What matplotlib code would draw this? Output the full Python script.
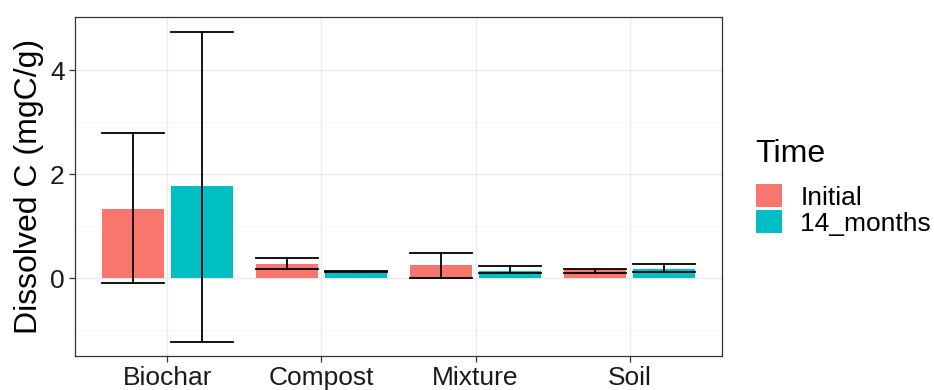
import matplotlib
matplotlib.use("Agg")
import matplotlib.pyplot as plt
import numpy as np
from matplotlib.patches import Patch

plt.rcParams["font.family"] = ["Liberation Sans", "DejaVu Sans"]

# ── data ─────────────────────────────────────────────────────────────
categories = ["Biochar", "Compost", "Mixture", "Soil"]
groups = ["Initial", "14_months"]
colors = ["#F8766D", "#00BFC4"]

initial_mean = [1.33, 0.27, 0.25, 0.15]
initial_lo = [-0.10, 0.17, 0.00, 0.10]
initial_hi = [2.78, 0.38, 0.49, 0.17]

months14_mean = [1.77, 0.13, 0.13, 0.17]
months14_lo = [-1.23, 0.12, 0.10, 0.12]
months14_hi = [4.73, 0.14, 0.23, 0.26]

means = [initial_mean, months14_mean]
lows = [initial_lo, months14_lo]
highs = [initial_hi, months14_hi]

# ── figure ───────────────────────────────────────────────────────────
W, H = 934, 390
fig = plt.figure(figsize=(W / 100, H / 100), dpi=100)
ax = fig.add_axes([75 / W, (H - 356) / H, 647 / W, 339 / H])

x = np.arange(1, len(categories) + 1)
dodge = 0.225
bw = 0.40
for i, g in enumerate(groups):
    xs = x + (i * 2 - 1) * dodge
    ax.bar(xs, means[i], width=bw, color=colors[i], zorder=2)
    for xx, lo, hi in zip(xs, lows[i], highs[i]):
        ax.plot([xx, xx], [lo, hi], color="black", lw=1.3, zorder=3)
        ax.plot([xx - bw / 2, xx + bw / 2], [lo, lo], color="black", lw=1.3, zorder=3)
        ax.plot([xx - bw / 2, xx + bw / 2], [hi, hi], color="black", lw=1.3, zorder=3)

ax.set_xlim(0.4, 4.6)
ax.set_ylim(-1.5, 5.02)
ax.set_xticks(x)
ax.set_xticklabels(categories)
ax.set_yticks([0, 2, 4])
ax.set_yticks([-1, 1, 3], minor=True)
ax.grid(which="major", color="#EBEBEB", lw=1.0, zorder=0)
ax.grid(which="minor", axis="y", color="#F2F2F2", lw=0.6, zorder=0)
ax.set_axisbelow(True)
for s in ax.spines.values():
    s.set_color("#333333")
    s.set_linewidth(0.9)
ax.tick_params(axis="both", which="major", labelsize=19, colors="#333333",
               labelcolor="#1a1a1a", length=4, width=0.9)
ax.tick_params(axis="y", which="minor", length=0)
ax.set_ylabel("Dissolved C (mgC/g)", fontsize=23, labelpad=4)

handles = [Patch(facecolor=c, edgecolor="none") for c in colors]
leg = fig.legend(handles, groups, title="Time", loc="upper left",
                 bbox_to_anchor=(745 / W, (H - 128) / H), frameon=False,
                 fontsize=19, title_fontsize=23, handlelength=1.0,
                 handleheight=1.0, handletextpad=0.7, labelspacing=0.0,
                 borderaxespad=0)
leg._legend_box.align = "left"
leg._legend_box.sep = 11

fig.savefig("out.png", dpi=100)
